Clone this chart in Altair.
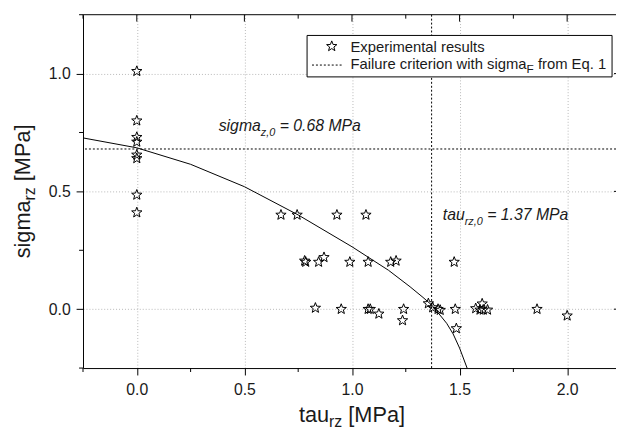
import altair as alt
import pandas as pd

# ---------------- data ----------------
tau = [0, 0, 0, 0, 0, 0, 0, 0,
       0.67, 0.745, 0.93, 1.065,
       0.78, 0.785, 0.845, 0.87, 0.99, 1.075, 1.18, 1.205,
       0.83, 0.95, 1.075, 1.085, 1.125, 1.24, 1.235,
       1.355, 1.375, 1.40, 1.41,
       1.475, 1.48, 1.485,
       1.575, 1.605, 1.595, 1.61, 1.63,
       1.86, 2.0]
sigma = [1.01, 0.80, 0.73, 0.71, 0.655, 0.64, 0.485, 0.41,
         0.40, 0.40, 0.40, 0.40,
         0.205, 0.20, 0.20, 0.22, 0.20, 0.20, 0.20, 0.205,
         0.005, 0.0, 0.0, 0.0, -0.02, 0.0, -0.048,
         0.024, 0.007, 0.0, -0.004,
         0.20, 0.0, -0.082,
         0.003, 0.023, -0.003, -0.003, -0.003,
         0.0, -0.028]

curve_tau = [-0.25, 0.0, 0.25, 0.5, 0.75, 1.0, 1.17, 1.27, 1.33, 1.37, 1.40, 1.44, 1.47, 1.50, 1.535]
curve_sigma = [0.727, 0.685, 0.615, 0.52, 0.40, 0.265, 0.165, 0.095, 0.05, 0.018, -0.015, -0.06, -0.105, -0.165, -0.25]

sigma_z0 = 0.68
tau_rz0 = 1.37

x_major = [0.0, 0.5, 1.0, 1.5, 2.0]
x_minor = [-0.25, 0.25, 0.75, 1.25, 1.75]
y_major = [0.0, 0.5, 1.0]
y_minor = [-0.25, 0.25, 0.75, 1.25]

# ---------------- styling ----------------
FONT = "Liberation Sans"
TXT = "#1a1a1a"
W, H = 540, 358
STAR = ("M0,-1L0.2469,-0.3398L0.9511,-0.309L0.3995,0.1298L0.5878,0.809"
        "L0,0.42L-0.5878,0.809L-0.3995,0.1298L-0.9511,-0.309L-0.2469,-0.3398Z")

AFM = {' ': 278, 's': 500, 'i': 222, 'g': 556, 'm': 833, 'a': 556, 'r': 333, 'z': 500,
       '[': 278, ']': 278, 'M': 833, 'P': 667, 't': 278, 'u': 556, 'F': 611, 'f': 278,
       'o': 556, 'E': 667, 'q': 556, '.': 278, '1': 556, 'e': 556, 'x': 500, 'p': 556,
       'l': 222, 'n': 556, 'c': 500, 'h': 556, 'w': 722, '0': 556, ',': 278, '6': 556,
       '8': 556, '3': 556, '7': 556, '=': 584}


def tw(s, size):
    return sum(AFM.get(c, 556) for c in s) * size / 1000.0


one = pd.DataFrame({"k": [0]})

XS = alt.Scale(domain=[-0.25, 2.227], nice=False, zero=False)
YS = alt.Scale(domain=[-0.25, 1.25], nice=False, zero=False)

axis_common = dict(title=None, grid=True, gridColor="#b8b8b8", gridDash=[1, 2], gridWidth=1,
                   tickSize=7, tickColor="black", tickWidth=1, domainColor="black", domainWidth=1,
                   labelFont=FONT, labelFontSize=16, labelColor=TXT, format=".1f")

points = alt.Chart(pd.DataFrame({"tau": tau, "sigma": sigma})).mark_point(
    shape=STAR, size=120, filled=False, stroke="black", strokeWidth=1, opacity=1
).encode(
    x=alt.X("tau:Q", scale=XS, axis=alt.Axis(values=x_major, labelPadding=7, **axis_common)),
    y=alt.Y("sigma:Q", scale=YS, axis=alt.Axis(values=y_major, labelPadding=6, **axis_common)),
)

curve = alt.Chart(pd.DataFrame({"tau": curve_tau, "sigma": curve_sigma})).mark_line(
    color="black", strokeWidth=1
).encode(x=alt.X("tau:Q", scale=XS), y=alt.Y("sigma:Q", scale=YS))

hline = alt.Chart(pd.DataFrame({"v": [sigma_z0]})).mark_rule(
    color="black", strokeDash=[2, 2], strokeWidth=1
).encode(y=alt.Y("v:Q", scale=YS))
vline = alt.Chart(pd.DataFrame({"v": [tau_rz0]})).mark_rule(
    color="black", strokeDash=[2, 2], strokeWidth=1
).encode(x=alt.X("v:Q", scale=XS))


def xticks(vals, y0, y1):
    return alt.Chart(pd.DataFrame({"v": vals})).mark_rule(color="black", strokeWidth=1).encode(
        x=alt.X("v:Q", scale=XS), y=alt.value(y0), y2=alt.value(y1))


def yticks(vals, x0, x1):
    return alt.Chart(pd.DataFrame({"v": vals})).mark_rule(color="black", strokeWidth=1).encode(
        y=alt.Y("v:Q", scale=YS), x=alt.value(x0), x2=alt.value(x1))


frame_top = alt.Chart(one).mark_rule(color="black", strokeWidth=1).encode(
    x=alt.value(0), x2=alt.value(W), y=alt.value(0))

# right axis lies at tau = 2.25, just past the picture's edge: only its inward ticks show
RX = W + 6
ticks = [
    xticks(x_minor, H, H + 4), xticks(x_major, 0, 7), xticks(x_minor, 0, 4),
    yticks(y_minor, 0, -4), yticks(y_major, RX - 8, RX), yticks(y_minor, RX - 4, RX),
    frame_top,
]


def piece(txt, x, y, size, style="normal", angle=0):
    # leading blanks are dropped by SVG, so shift instead
    stripped = txt.lstrip(" ")
    shift = tw(txt[: len(txt) - len(stripped)], size)
    if angle == 270:
        xx, yy = x, y - shift
    else:
        xx, yy = x + shift, y
    return alt.Chart(one).mark_text(
        text=stripped, font=FONT, fontSize=size, fontStyle=style, color=TXT,
        align="left", baseline="alphabetic", angle=angle
    ).encode(x=alt.value(xx), y=alt.value(yy))


texts = []

# annotation sigma_z,0
ax, ay = 137.5, 118
texts.append(piece("sigma", ax, ay, 16, "italic"))
ax2 = ax + tw("sigma", 16)
texts.append(piece("z,0", ax2, ay + 5, 11, "italic"))
ax3 = ax2 + tw("z,0", 11)
texts.append(piece(" = 0.68 MPa", ax3, ay, 16, "italic"))

# annotation tau_rz,0
bx, by = 364.5, 208
texts.append(piece("tau", bx, by, 16, "italic"))
bx2 = bx + tw("tau", 16)
texts.append(piece("rz,0", bx2, by + 5, 11, "italic"))
bx3 = bx2 + tw("rz,0", 11)
texts.append(piece(" = 1.37 MPa", bx3, by, 16, "italic"))

# x axis title (centred on the full 2.5-wide axis)
TS, SS = 22, 16
FULLW = 545
xt_w = tw("tau", TS) + tw("rz", SS) + tw(" [MPa]", TS)
x0 = FULLW / 2 - xt_w / 2
ty = 413
texts.append(piece("tau", x0, ty, TS))
texts.append(piece("rz", x0 + tw("tau", TS), ty + 5, SS))
texts.append(piece(" [MPa]", x0 + tw("tau", TS) + tw("rz", SS), ty, TS))

# y axis title (rotated)
yt_w = tw("sigma", TS) + tw("rz", SS) + tw(" [MPa]", TS)
y0 = H / 2 + yt_w / 2
yx = -54
texts.append(piece("sigma", yx, y0, TS, angle=270))
texts.append(piece("rz", yx + 5, y0 - tw("sigma", TS), SS, angle=270))
texts.append(piece(" [MPa]", yx, y0 - tw("sigma", TS) - tw("rz", SS), TS, angle=270))

# legend
LX0, LX1, LY0, LY1 = 227, 536, 21, 63
leg_box = alt.Chart(one).mark_rect(fill="white", stroke="black", strokeWidth=1).encode(
    x=alt.value(LX0), x2=alt.value(LX1), y=alt.value(LY0), y2=alt.value(LY1))
leg_star = alt.Chart(one).mark_point(
    shape=STAR, size=120, filled=False, stroke="black", strokeWidth=1, opacity=1
).encode(x=alt.value(252), y=alt.value(32))
leg_line = alt.Chart(one).mark_rule(color="black", strokeDash=[2, 2], strokeWidth=1).encode(
    x=alt.value(232), x2=alt.value(264), y=alt.value(51))
LS = 15
lt = 271
leg_txt = [
    piece("Experimental results", lt, 37.5, LS),
    piece("Failure criterion with sigma", lt, 55.5, LS),
    piece("F", lt + tw("Failure criterion with sigma", LS), 59.5, 12),
    piece(" from Eq. 1", lt + tw("Failure criterion with sigma", LS) + tw("F", 12), 55.5, LS),
]

chart = alt.layer(
    hline, vline, curve, points, *ticks, *texts, leg_box, leg_star, leg_line, *leg_txt
).properties(
    width=W, height=H,
    autosize=alt.AutoSizeParams(type="none"),
    padding={"left": 76, "top": 4, "right": 0, "bottom": 64},
).configure_view(stroke=None)

chart.save("out.html", embed_options={"renderer": "svg", "actions": False})
